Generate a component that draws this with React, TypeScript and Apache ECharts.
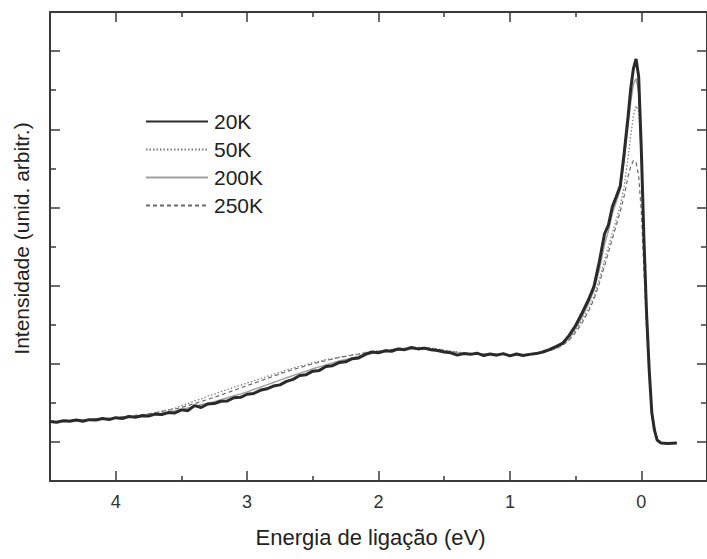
import React, { useEffect, useRef } from "react";
import * as echarts from "echarts";

const energy = [
  4.5, 4.45, 4.4, 4.35, 4.3, 4.25, 4.2, 4.15, 4.1, 4.05,
  4.0, 3.95, 3.9, 3.85, 3.8, 3.75, 3.7, 3.65, 3.6, 3.55,
  3.5, 3.45, 3.4, 3.35, 3.3, 3.25, 3.2, 3.15, 3.1, 3.05,
  3.0, 2.95, 2.9, 2.85, 2.8, 2.75, 2.7, 2.65, 2.6, 2.55,
  2.5, 2.45, 2.4, 2.35, 2.3, 2.25, 2.2, 2.15, 2.1, 2.05,
  2.0, 1.95, 1.9, 1.85, 1.8, 1.75, 1.7, 1.65, 1.6, 1.55,
  1.5, 1.45, 1.4, 1.35, 1.3, 1.25, 1.2, 1.15, 1.1, 1.05,
  1.0, 0.95, 0.9, 0.85, 0.8, 0.75, 0.7, 0.65, 0.6, 0.55,
  0.5, 0.45, 0.4, 0.36, 0.32, 0.28, 0.25, 0.22, 0.19, 0.16,
  0.13, 0.1, 0.08, 0.06, 0.04, 0.02, 0.0, -0.02, -0.04, -0.06,
  -0.08, -0.1, -0.12, -0.15, -0.2, -0.27,
];

const i20K = [
  1.52, 1.5, 1.54, 1.53, 1.56, 1.53, 1.57, 1.56, 1.6, 1.57,
  1.62, 1.6, 1.65, 1.63, 1.67, 1.66, 1.71, 1.7, 1.75, 1.74,
  1.82, 1.8, 1.93, 1.88, 1.97, 1.98, 2.04, 2.05, 2.13, 2.14,
  2.22, 2.24, 2.32, 2.36, 2.43, 2.46, 2.55, 2.6, 2.7, 2.72,
  2.81, 2.83, 2.93, 2.95, 3.03, 3.05, 3.13, 3.15, 3.24, 3.3,
  3.28, 3.33, 3.32, 3.38, 3.36, 3.42, 3.38, 3.4, 3.36, 3.34,
  3.3, 3.28, 3.22, 3.26, 3.24, 3.27, 3.21, 3.25, 3.22, 3.26,
  3.2, 3.25, 3.21, 3.24, 3.26, 3.3, 3.36, 3.44, 3.52, 3.72,
  3.98, 4.3, 4.65, 4.98, 5.6, 6.32, 6.55, 7.02, 7.28, 7.55,
  8.4, 9.35, 10.05, 10.55, 10.8, 10.35, 8.5, 6.2, 4.3, 2.85,
  1.75, 1.3, 1.05, 0.97, 0.96, 0.97,
];

const i50K = [
  1.53, 1.52, 1.53, 1.55, 1.55, 1.55, 1.57, 1.58, 1.59, 1.59,
  1.62, 1.63, 1.65, 1.66, 1.69, 1.71, 1.75, 1.78, 1.83, 1.86,
  1.93, 1.98, 2.05, 2.1, 2.17, 2.22, 2.29, 2.34, 2.4, 2.45,
  2.51, 2.56, 2.62, 2.67, 2.73, 2.78, 2.84, 2.89, 2.94, 2.97,
  3.03, 3.06, 3.11, 3.13, 3.17, 3.19, 3.23, 3.24, 3.29, 3.31,
  3.33, 3.35, 3.37, 3.39, 3.4, 3.42, 3.42, 3.42, 3.4, 3.38,
  3.35, 3.32, 3.3, 3.28, 3.27, 3.26, 3.25, 3.25, 3.24, 3.24,
  3.23, 3.23, 3.23, 3.24, 3.26, 3.29, 3.33, 3.39, 3.48, 3.62,
  3.85, 4.12, 4.42, 4.72, 5.15, 5.65, 6.0, 6.35, 6.7, 7.05,
  7.55, 8.3, 8.85, 9.35, 9.6, 9.45, 8.3, 6.1, 4.25, 2.85,
  1.78, 1.32, 1.06, 0.98, 0.96, 0.97,
];

const i200K = [
  1.53, 1.53, 1.54, 1.55, 1.56, 1.56, 1.57, 1.58, 1.59, 1.6,
  1.61, 1.62, 1.64, 1.65, 1.67, 1.69, 1.71, 1.73, 1.76, 1.79,
  1.83, 1.87, 1.91, 1.95, 1.99, 2.03, 2.08, 2.13, 2.18, 2.23,
  2.28, 2.34, 2.4, 2.46, 2.52, 2.58, 2.64, 2.7, 2.76, 2.81,
  2.87, 2.92, 2.97, 3.02, 3.07, 3.11, 3.15, 3.19, 3.23, 3.26,
  3.29, 3.31, 3.33, 3.35, 3.36, 3.37, 3.37, 3.37, 3.36, 3.34,
  3.32, 3.3, 3.28, 3.27, 3.26, 3.25, 3.24, 3.24, 3.24, 3.24,
  3.23, 3.23, 3.23, 3.24, 3.26, 3.29, 3.34, 3.41, 3.5, 3.66,
  3.9, 4.2, 4.55, 4.88, 5.4, 6.05, 6.4, 6.85, 7.15, 7.45,
  8.2, 9.1, 9.7, 10.15, 10.3, 9.95, 8.4, 6.15, 4.28, 2.85,
  1.76, 1.31, 1.05, 0.97, 0.96, 0.97,
];

const i250K = [
  1.54, 1.54, 1.55, 1.55, 1.56, 1.57, 1.58, 1.59, 1.6, 1.61,
  1.62, 1.64, 1.66, 1.68, 1.7, 1.72, 1.75, 1.78, 1.81, 1.84,
  1.88, 1.93, 1.98, 2.03, 2.09, 2.14, 2.2, 2.26, 2.32, 2.38,
  2.44, 2.5, 2.56, 2.62, 2.68, 2.74, 2.8, 2.85, 2.9, 2.95,
  3.0, 3.04, 3.08, 3.12, 3.16, 3.19, 3.22, 3.25, 3.28, 3.3,
  3.32, 3.34, 3.36, 3.38, 3.39, 3.4, 3.4, 3.4, 3.39, 3.37,
  3.34, 3.31, 3.29, 3.27, 3.26, 3.25, 3.24, 3.24, 3.23, 3.23,
  3.23, 3.23, 3.23, 3.24, 3.26, 3.29, 3.33, 3.39, 3.47, 3.6,
  3.8, 4.05, 4.35, 4.65, 5.05, 5.5, 5.85, 6.2, 6.55, 6.9,
  7.3, 7.8, 8.05, 8.2, 8.15, 7.8, 6.9, 5.4, 3.9, 2.75,
  1.8, 1.38, 1.1, 0.99, 0.96, 0.97,
];

const seriesNames = ["20K", "50K", "200K", "250K"];
const xMajorTicks = [0, 1, 2, 3, 4];
const xMinorTicks = [0.5, 1.5, 2.5, 3.5];
const yMajorTicks = [1, 3, 5, 7, 9, 11];
const yMinorTicks = [2, 4, 6, 8, 10];

const FONT = "'Liberation Sans', Arial, sans-serif";
const AXIS_COLOR = "#3a3a3a";

function pairs(vals: number[]) {
  return energy.map((e, i) => [e, vals[i]]);
}

export default function App() {
  const ref = useRef<HTMLDivElement>(null);
  useEffect(() => {
    if (!ref.current) return;
    const chart = echarts.init(ref.current, null, { renderer: "svg" });
    const xBase = {
      type: "value" as const,
      min: -0.5,
      max: 4.5,
      inverse: true,
      gridIndex: 0,
      splitLine: { show: false },
    };
    const yBase = {
      type: "value" as const,
      min: 0,
      max: 12,
      gridIndex: 0,
      splitLine: { show: false },
      axisLabel: { show: false },
    };
    const lineSt = { color: AXIS_COLOR, width: 2 };
    const tickSt = { color: AXIS_COLOR, width: 1.5 };
    const mkSeries = (name: string, vals: number[], color: string, width: number, type: any, z: number) => ({
      name,
      type: "line",
      data: pairs(vals),
      symbol: "none",
      z,
      itemStyle: { color, opacity: 0 },
      lineStyle: { color, width, type },
    });
    chart.setOption({
      animation: false,
      backgroundColor: "#ffffff",
      textStyle: { fontFamily: FONT },
      grid: { left: 50, right: -6, top: 12, bottom: 78, containLabel: false },
      legend: {
        data: seriesNames,
        orient: "vertical",
        left: 145,
        top: 111,
        padding: 0,
        itemWidth: 62,
        itemHeight: 20,
        itemGap: 7,
        textStyle: { fontSize: 21, lineHeight: 21, color: "#222", fontFamily: FONT, padding: [0, 0, 0, 1] },
      },
      xAxis: [
        {
          ...xBase,
          position: "bottom",
          axisLine: { show: true, onZero: false, lineStyle: lineSt },
          axisTick: { show: true, inside: true, length: 10, customValues: xMajorTicks, lineStyle: tickSt },
          axisLabel: { show: true, customValues: xMajorTicks, fontSize: 18, color: "#333", margin: 12, fontFamily: FONT },
          name: "Energia de ligação (eV)",
          nameLocation: "middle",
          nameGap: 45,
          nameTextStyle: { fontSize: 22, color: "#222", fontFamily: FONT, padding: [0, 16, 0, 0] },
        },
        {
          ...xBase,
          position: "bottom",
          axisLine: { show: false, onZero: false },
          axisTick: { show: true, inside: true, length: 5, customValues: xMinorTicks, lineStyle: tickSt },
          axisLabel: { show: false },
        },
        {
          ...xBase,
          position: "top",
          axisLine: { show: true, onZero: false, lineStyle: lineSt },
          axisTick: { show: true, inside: true, length: 10, customValues: xMajorTicks, lineStyle: tickSt },
          axisLabel: { show: false },
        },
        {
          ...xBase,
          position: "top",
          axisLine: { show: false, onZero: false },
          axisTick: { show: true, inside: true, length: 5, customValues: xMinorTicks, lineStyle: tickSt },
          axisLabel: { show: false },
        },
      ],
      yAxis: [
        {
          ...yBase,
          position: "left",
          axisLine: { show: true, onZero: false, lineStyle: lineSt },
          axisTick: { show: true, inside: true, length: 10, customValues: yMajorTicks, lineStyle: tickSt },
          name: "Intensidade (unid. arbitr.)",
          nameLocation: "middle",
          nameGap: 18,
          nameRotate: 90,
          nameTextStyle: { fontSize: 21, color: "#222", fontFamily: FONT, padding: [0, 0, 0, 16] },
        },
        {
          ...yBase,
          position: "left",
          axisLine: { show: false, onZero: false },
          axisTick: { show: true, inside: true, length: 6, customValues: yMinorTicks, lineStyle: tickSt },
        },
        {
          ...yBase,
          position: "right",
          axisLine: { show: true, onZero: false, lineStyle: lineSt },
          axisTick: { show: true, inside: true, length: 10, customValues: yMajorTicks, lineStyle: tickSt },
        },
        {
          ...yBase,
          position: "right",
          axisLine: { show: false, onZero: false },
          axisTick: { show: true, inside: true, length: 6, customValues: yMinorTicks, lineStyle: tickSt },
        },
      ],
      series: [
        mkSeries("250K", i250K, "#6a6a6a", 1.2, [4, 3], 2),
        mkSeries("200K", i200K, "#a0a0a0", 1.5, "solid", 3),
        mkSeries("50K", i50K, "#7a7a7a", 1.2, [1.5, 2], 4),
        mkSeries("20K", i20K, "#2a2a2a", 3, "solid", 5),
      ],
    });
    return () => chart.dispose();
  }, []);
  return (
    <div
      ref={ref}
      style={{ position: "fixed", left: 0, top: 0, width: 707, height: 559, background: "#fff" }}
    />
  );
}
